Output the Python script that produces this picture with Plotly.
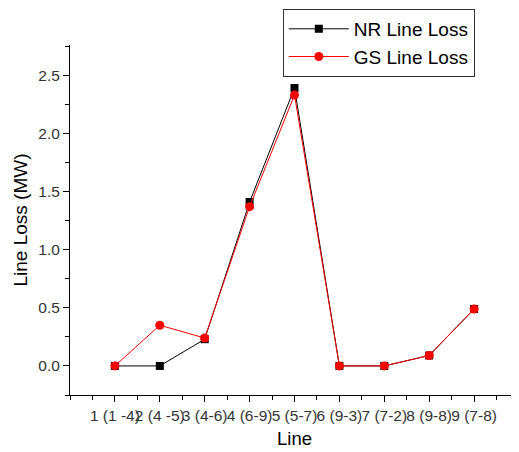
import plotly.graph_objects as go

categories = [1, 2, 3, 4, 5, 6, 7, 8, 9]
tick_labels = ["1 (1 -4)", "2 (4 -5)", "3 (4-6)", "4 (6-9)", "5 (5-7)",
               "6 (9-3)", "7 (7-2)", "8 (9-8)", "9 (7-8)"]
nr_loss = [0.0, 0.0, 0.23, 1.41, 2.39, 0.0, 0.0, 0.09, 0.49]
gs_loss = [0.0, 0.35, 0.24, 1.37, 2.33, 0.0, 0.0, 0.09, 0.49]

fig = go.Figure()
fig.add_trace(go.Scatter(
    x=categories, y=nr_loss, name="NR Line Loss", mode="lines+markers",
    line=dict(color="black", width=1),
    marker=dict(symbol="square", size=8, color="black")))
fig.add_trace(go.Scatter(
    x=categories, y=gs_loss, name="GS Line Loss", mode="lines+markers",
    line=dict(color="red", width=1),
    marker=dict(symbol="circle", size=9, color="red")))

fig.update_layout(
    width=511, height=444,
    margin=dict(l=62, r=0, t=37, b=57, autoexpand=False),
    paper_bgcolor="white", plot_bgcolor="white",
    font=dict(family="Arial, Liberation Sans, sans-serif", color="#222"),
    showlegend=True,
    legend=dict(x=0.474, y=1.103, xanchor="left", yanchor="top",
                bordercolor="#333", borderwidth=1, bgcolor="white",
                font=dict(size=19, color="black"),
                tracegroupgap=0, itemwidth=60),
    xaxis=dict(
        range=[0, 10], tickmode="array", tickvals=categories, ticktext=tick_labels,
        tickangle=0,
        showgrid=False, zeroline=False, showline=True, linecolor="black", linewidth=1,
        ticks="outside", ticklen=6, tickcolor="black", automargin=False,
        tickfont=dict(size=15.5, color="#333"),
        minor=dict(ticks="outside", ticklen=4, tickcolor="black", dtick=0.5, tick0=0, showgrid=False),
        title=dict(text="Line", font=dict(size=18.5, color="black"), standoff=9),
    ),
    yaxis=dict(
        range=[-0.25, 2.76], tickmode="array", tickvals=[0, 0.5, 1.0, 1.5, 2.0, 2.5],
        tickformat=".1f", automargin=False,
        showgrid=False, zeroline=False, showline=True, linecolor="black", linewidth=1,
        ticks="outside", ticklen=6, tickcolor="black",
        tickfont=dict(size=15.5, color="#333"),
        minor=dict(ticks="outside", ticklen=4, tickcolor="black", dtick=0.25, tick0=0, showgrid=False),
        title=dict(text="Line Loss (MW)", font=dict(size=19, color="black"), standoff=5),
    ),
)

fig.write_html("out.html")
